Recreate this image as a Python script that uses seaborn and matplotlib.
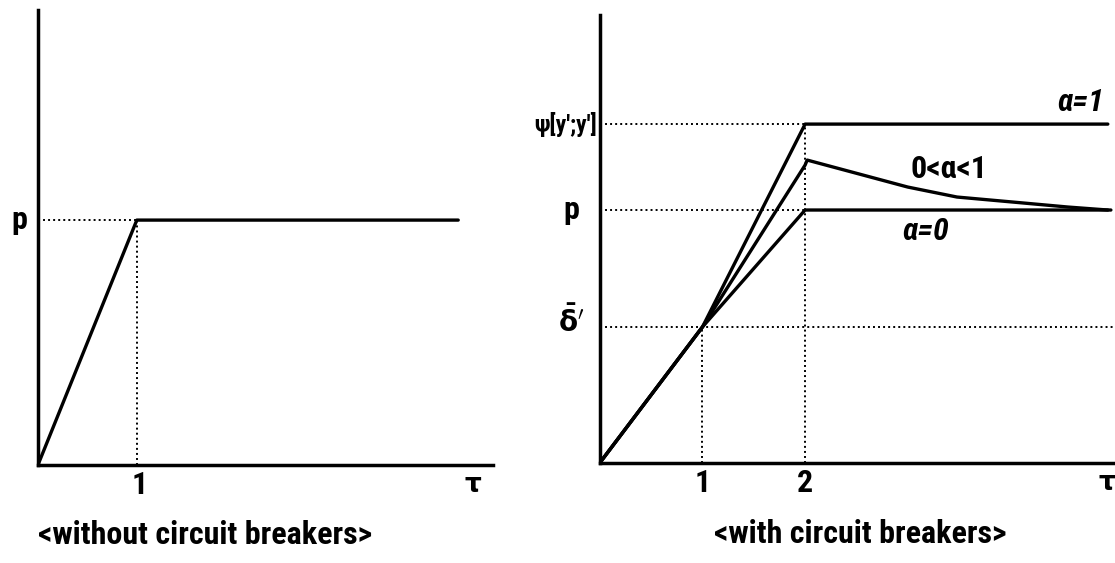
import numpy as np
import pandas as pd
import seaborn as sns
import matplotlib.pyplot as plt
from matplotlib import font_manager

sns.set_style("white")
installed = {f.name for f in font_manager.fontManager.ttflist}
if 'Liberation Sans Narrow' in installed:
    main_font, fs = 'Liberation Sans Narrow', 24
elif 'Roboto Condensed' in installed:
    main_font, fs = 'Roboto Condensed', 23
else:
    main_font, fs = 'DejaVu Sans', 16
plt.rcParams['font.family'] = [main_font, 'DejaVu Sans']
plt.rcParams['font.weight'] = 'bold'
plt.rcParams['text.color'] = 'black'
plt.rcParams['mathtext.fontset'] = 'dejavusans'
plt.rcParams['mathtext.default'] = 'bf'

# left panel: price path without circuit breakers
left_tau = [0, 1, 4.25]
left_price = [0, 2.45, 2.45]
left_p = 2.45

# right panel: price paths with circuit breakers
delta_bar = 1.36
p_level = 2.53
psi_level = 3.39
tau_ticks = [1, 2]

alpha1_tau = [0, 1, 2, 4.95]
alpha1_val = [0, 1.36, 3.39, 3.39]
alpha0_tau = [0, 1, 2, 4.98]
alpha0_val = [0, 1.36, 2.53, 2.53]
mid_tau = [0, 1, 2, 2.02, 3.0, 3.48, 4.13, 4.56, 4.95]
mid_val = [0, 1.36, 2.98, 3.03, 2.76, 2.66, 2.60, 2.56, 2.53]

fig = plt.figure(figsize=(11.15, 5.63), dpi=100)
ax1 = fig.add_axes([0.034, 0.174, 0.408, 0.808])
ax2 = fig.add_axes([0.538, 0.178, 0.462, 0.795])

dot = dict(color='black', lw=1.4, ls=(0, (1, 1.6)))
solid = dict(color='black', lw=2.4)

# ---- left
sns.lineplot(x=left_tau, y=left_price, ax=ax1, **solid)
ax1.plot([0, 1], [left_p, left_p], **dot)
ax1.plot([1, 1], [0, left_p], **dot)
ax1.set_xlim(0, 4.6)
ax1.set_ylim(0, 4.55)
ax1.text(-0.11, left_p, "p", ha='right', va='center', fontsize=fs)
ax1.text(1.03, -0.05, "1", ha='center', va='top', fontsize=fs)
ax1.text(4.4, -0.07, "τ", ha='center', va='top', fontsize=fs - 4, family='DejaVu Sans')
ax1.text(0.367, -0.12, "<without circuit breakers>", transform=ax1.transAxes,
         ha='center', va='top', fontsize=fs)

# ---- right
for t, v in [(alpha1_tau, alpha1_val), (alpha0_tau, alpha0_val), (mid_tau, mid_val)]:
    sns.lineplot(x=t, y=v, ax=ax2, sort=False, **solid)
ax2.plot([0, 2], [psi_level, psi_level], **dot)
ax2.plot([0, 2], [p_level, p_level], **dot)
ax2.plot([0, 5.1], [delta_bar, delta_bar], **dot)
ax2.plot([1, 1], [0, delta_bar], **dot)
ax2.plot([2, 2], [0, psi_level], **dot)
ax2.set_xlim(0, 5.02)
ax2.set_ylim(0, 4.48)
ax2.text(-0.03, psi_level, "ψ[y';y']", ha='right', va='center', fontsize=fs - 6)
ax2.text(-0.2, p_level, "p", ha='right', va='center', fontsize=fs)
ax2.text(-0.15, delta_bar + 0.05, r"$\bar{\delta}^{\prime}$", ha='right', va='center', fontsize=fs - 3)
for t in tau_ticks:
    ax2.text(t, -0.05, str(t), ha='center', va='top', fontsize=fs)
ax2.text(5.02, -0.07, "τ", ha='right', va='top', fontsize=fs - 4, family='DejaVu Sans')
ax2.text(4.91, psi_level + 0.07, "α=1", ha='right', va='bottom', fontsize=fs, style='italic')
ax2.text(3.4, 2.94, "0<α<1", ha='center', va='center', fontsize=fs)
ax2.text(3.17, 2.31, "α=0", ha='center', va='center', fontsize=fs, style='italic')
ax2.text(0.505, -0.125, "<with circuit breakers>", transform=ax2.transAxes,
         ha='center', va='top', fontsize=fs)

for ax in (ax1, ax2):
    sns.despine(ax=ax)
    ax.spines['left'].set_linewidth(2.5)
    ax.spines['bottom'].set_linewidth(2.5)
    ax.spines['left'].set_color('black')
    ax.spines['bottom'].set_color('black')
    ax.set_xticks([])
    ax.set_yticks([])
    ax.set_xlabel("")
    ax.set_ylabel("")

fig.savefig("out.png", dpi=100)
